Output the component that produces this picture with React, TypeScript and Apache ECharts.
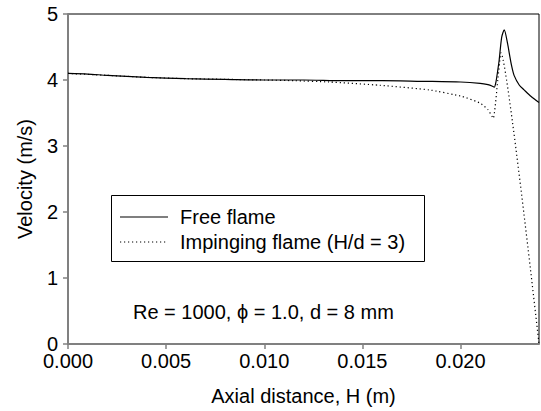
import React, { useEffect, useRef } from "react";
import * as echarts from "echarts";

const freeX = [0, 0.001, 0.002, 0.004, 0.006, 0.008, 0.010, 0.012, 0.014, 0.016, 0.018, 0.020, 0.021, 0.0214, 0.0216, 0.02172, 0.0218, 0.0219, 0.02197, 0.0221, 0.02223, 0.0224, 0.0225, 0.0226, 0.02273, 0.0230, 0.02324, 0.0236, 0.024];
const freeY = [4.10, 4.09, 4.07, 4.04, 4.02, 4.01, 4.00, 4.00, 3.99, 3.99, 3.98, 3.97, 3.95, 3.93, 3.91, 3.89, 3.96, 4.15, 4.30, 4.65, 4.76, 4.55, 4.38, 4.22, 4.07, 3.92, 3.85, 3.75, 3.66];

const impX = [0, 0.002, 0.004, 0.006, 0.008, 0.010, 0.0115, 0.0133, 0.0159, 0.0184, 0.0201, 0.0210, 0.0214, 0.02167, 0.0219, 0.02206, 0.024];
const impY = [4.10, 4.07, 4.04, 4.02, 4.01, 4.00, 3.99, 3.97, 3.92, 3.85, 3.75, 3.65, 3.55, 3.42, 4.0, 4.41, 0];

const xTicks = ["0.000", "0.005", "0.010", "0.015", "0.020"];
const seriesNames = ["Free flame", "Impinging flame (H/d = 3)"];
const annotation = "Re = 1000, \u03d5 = 1.0, d = 8 mm";

const FONT = "Liberation Sans, Arial, Helvetica, sans-serif";
const FS = 20;
const DOT: number[] = [1.2, 2.8];

export default function App() {
  const ref = useRef<HTMLDivElement>(null);
  useEffect(() => {
    if (!ref.current) return;
    const chart = echarts.init(ref.current, null, { renderer: "svg" });
    chart.setOption({
      animation: false,
      backgroundColor: "#ffffff",
      textStyle: { fontFamily: FONT },
      grid: {
        left: 68,
        top: 14,
        right: 2,
        bottom: 67,
        show: true,
        borderColor: "#000",
        borderWidth: 1,
      },
      xAxis: {
        type: "value",
        min: 0,
        max: 0.024,
        interval: 0.005,
        name: "Axial distance, H (m)",
        nameLocation: "middle",
        nameGap: 42,
        nameTextStyle: { fontSize: FS, color: "#000", fontFamily: FONT },
        axisLine: { show: true, onZero: false, lineStyle: { color: "#808080", width: 2 } },
        axisTick: { show: true, length: 5, lineStyle: { color: "#808080", width: 1.5 } },
        splitLine: { show: false },
        axisLabel: {
          fontSize: FS,
          color: "#000",
          margin: 7,
          showMaxLabel: false,
          fontFamily: FONT,
          formatter: (v: number) => {
            const idx = Math.round(v / 0.005);
            return Math.abs(v - idx * 0.005) < 1e-9 && xTicks[idx] ? xTicks[idx] : "";
          },
        },
      },
      yAxis: {
        type: "value",
        min: 0,
        max: 5,
        interval: 1,
        name: "Velocity (m/s)",
        nameLocation: "middle",
        nameGap: 33,
        nameTextStyle: { fontSize: FS, color: "#000", fontFamily: FONT },
        axisLine: { show: true, onZero: false, lineStyle: { color: "#808080", width: 2 } },
        axisTick: { show: true, length: 5, lineStyle: { color: "#808080", width: 1.5 } },
        splitLine: { show: false },
        axisLabel: { fontSize: FS, color: "#000", margin: 10, fontFamily: FONT },
      },
      legend: { show: false, data: seriesNames },
      graphic: [
        {
          type: "rect",
          shape: { x: 111.5, y: 195.5, width: 313, height: 66 },
          style: { fill: "#fff", stroke: "#000", lineWidth: 1 },
          z: 100,
        },
        {
          type: "line",
          shape: { x1: 120, y1: 217, x2: 168, y2: 217 },
          style: { stroke: "#000", lineWidth: 1.2 },
          z: 101,
        },
        {
          type: "line",
          shape: { x1: 120, y1: 242, x2: 168, y2: 242 },
          style: { stroke: "#000", lineWidth: 1.2, lineDash: DOT },
          z: 101,
        },
        {
          type: "text",
          x: 180,
          y: 217,
          style: { text: seriesNames[0], fontSize: FS, fill: "#000", fontFamily: FONT, verticalAlign: "middle" },
          z: 101,
        },
        {
          type: "text",
          x: 180,
          y: 242,
          style: { text: seriesNames[1], fontSize: FS, fill: "#000", fontFamily: FONT, verticalAlign: "middle" },
          z: 101,
        },
        {
          type: "text",
          x: 133,
          y: 312,
          style: { text: annotation, fontSize: FS, fill: "#000", fontFamily: FONT, verticalAlign: "middle" },
          z: 101,
        },
      ],
      series: [
        {
          name: seriesNames[0],
          type: "line",
          data: freeX.map((x, i) => [x, freeY[i]]),
          symbol: "none",
          showSymbol: false,
          smooth: 0.25,
          lineStyle: { color: "#000", width: 1.2, type: "solid" },
          itemStyle: { color: "#000" },
        },
        {
          name: seriesNames[1],
          type: "line",
          data: impX.map((x, i) => [x, impY[i]]),
          symbol: "none",
          showSymbol: false,
          smooth: 0.15,
          lineStyle: { color: "#000", width: 1.2, type: DOT },
          itemStyle: { color: "#000" },
        },
      ],
    });
    return () => chart.dispose();
  }, []);
  return (
    <div
      ref={ref}
      style={{ position: "fixed", left: 0, top: 0, width: 541, height: 411 }}
    />
  );
}
